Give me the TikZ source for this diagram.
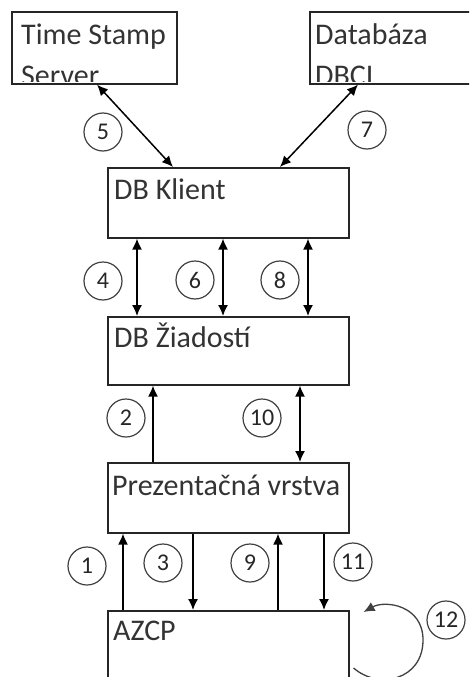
\documentclass[tikz,border=0pt]{standalone}
\usepackage{fontspec}
\setmainfont{Carlito}
\usepackage{tikz}
\usetikzlibrary{calc,arrows.meta}

\begin{document}
\begin{tikzpicture}[x=1pt,y=-1pt,
    box/.style={draw=black!85, line width=1.6pt, rectangle, anchor=north west,
        minimum width=241pt, minimum height=70pt, inner sep=0pt},
    lbl/.style={anchor=base west, inner sep=0pt, text=black!80,
        font=\fontsize{30}{36}\selectfont},
    num/.style={draw=black!75, line width=1.2pt, circle, minimum size=38pt,
        inner sep=0pt, text=black!85, font=\fontsize{24}{24}\selectfont},
    link/.style={line width=1.5pt, {Latex[length=11pt,width=10pt]}-{Latex[length=11pt,width=10pt]}},
    flow/.style={line width=1.5pt, -{Latex[length=11pt,width=10pt]}}]
    \useasboundingbox (0,0) rectangle (469,677);
    \clip (0,0) rectangle (469,677);

    % Boxes
    \node[box, minimum width=165pt, minimum height=72pt] (tss) at (11,11) {};
    \node[box, minimum width=170pt, minimum height=72pt] (dbci) at (309,11) {};
    \node[box] (klient) at (107,167) {};
    \node[box, minimum height=68pt] (ziad) at (107,316) {};
    \node[box] (prez) at (107,462) {};
    \node[box, minimum height=120pt] (azcp) at (107,610) {};

    % Box texts (the two upper boxes cut their second line)
    \begin{scope}
        \clip (tss.north west) rectangle ($(tss.south east)+(0,-3)$);
        \node[lbl] (tsst) at ($(tss.north west)+(10,34)$) {Time Stamp};
        \node[lbl] (tsss) at ($(tss.north west)+(10,74)$) {Server};
    \end{scope}
    \begin{scope}
        \clip (dbci.north west) rectangle ($(dbci.south east)+(0,-3)$);
        \node[lbl] (dbcit) at ($(dbci.north west)+(6,34)$) {Databáza};
        \node[lbl] (dbcis) at ($(dbci.north west)+(6,74)$) {DBCI};
    \end{scope}
    \node[lbl] (klientt) at ($(klient.north west)+(7,32)$) {DB Klient};
    \node[lbl] (ziadt) at ($(ziad.north west)+(7,31)$) {DB Žiadostí};
    \node[lbl] (prezt) at ($(prez.north west)+(5,33)$) {Prezentačná vrstva};
    \node[lbl] (azcpt) at ($(azcp.north west)+(6,30)$) {AZCP};

    % Connectors
    \draw[link] ($(tss.south west)+(86,0)$) -- ($(klient.north west)+(66,0)$);
    \draw[link] ($(dbci.south west)+(49,0)$) -- ($(klient.north west)+(173,0)$);
    \foreach \dx in {30,116,201} {
        \draw[link] ($(klient.south west)+(\dx,0)$) -- ($(ziad.north west)+(\dx,0)$);
    }
    \draw[flow] ($(prez.north west)+(46,0)$) -- ($(ziad.south west)+(46,0)$);
    \draw[link] ($(ziad.south west)+(193,0)$) -- ($(prez.north west)+(193,0)$);
    \foreach \dx in {16,171} {
        \draw[flow] ($(azcp.north west)+(\dx,0)$) -- ($(prez.south west)+(\dx,0)$);
    }
    \foreach \dx in {86,217} {
        \draw[flow] ($(prez.south west)+(\dx,0)$) -- ($(azcp.north west)+(\dx,0)$);
    }

    % Loop on AZCP
    \coordinate (loopin) at ($(azcp.north east)+(4,58)$);
    \coordinate (loopout) at ($(azcp.north east)+(14,2)$);
    \draw[line width=1.3pt, draw=black!75, -{Latex[length=11pt,width=10pt]}]
        (loopin) .. controls +(25,22) and (423,680) .. (423,640)
        .. controls (423,605) and (385,600) .. (loopout);

    % Step numbers
    \foreach \n/\x/\y in {1/87/566, 2/126/418, 3/163/563, 4/103/281, 5/103/132,
        6/195/280, 7/367/130, 8/280/280, 9/250/563, 10/262/418, 11/353/562, 12/446/620} {
        \node[num] (c\n) at (\x,\y) {\n};
    }
\end{tikzpicture}
\end{document}
